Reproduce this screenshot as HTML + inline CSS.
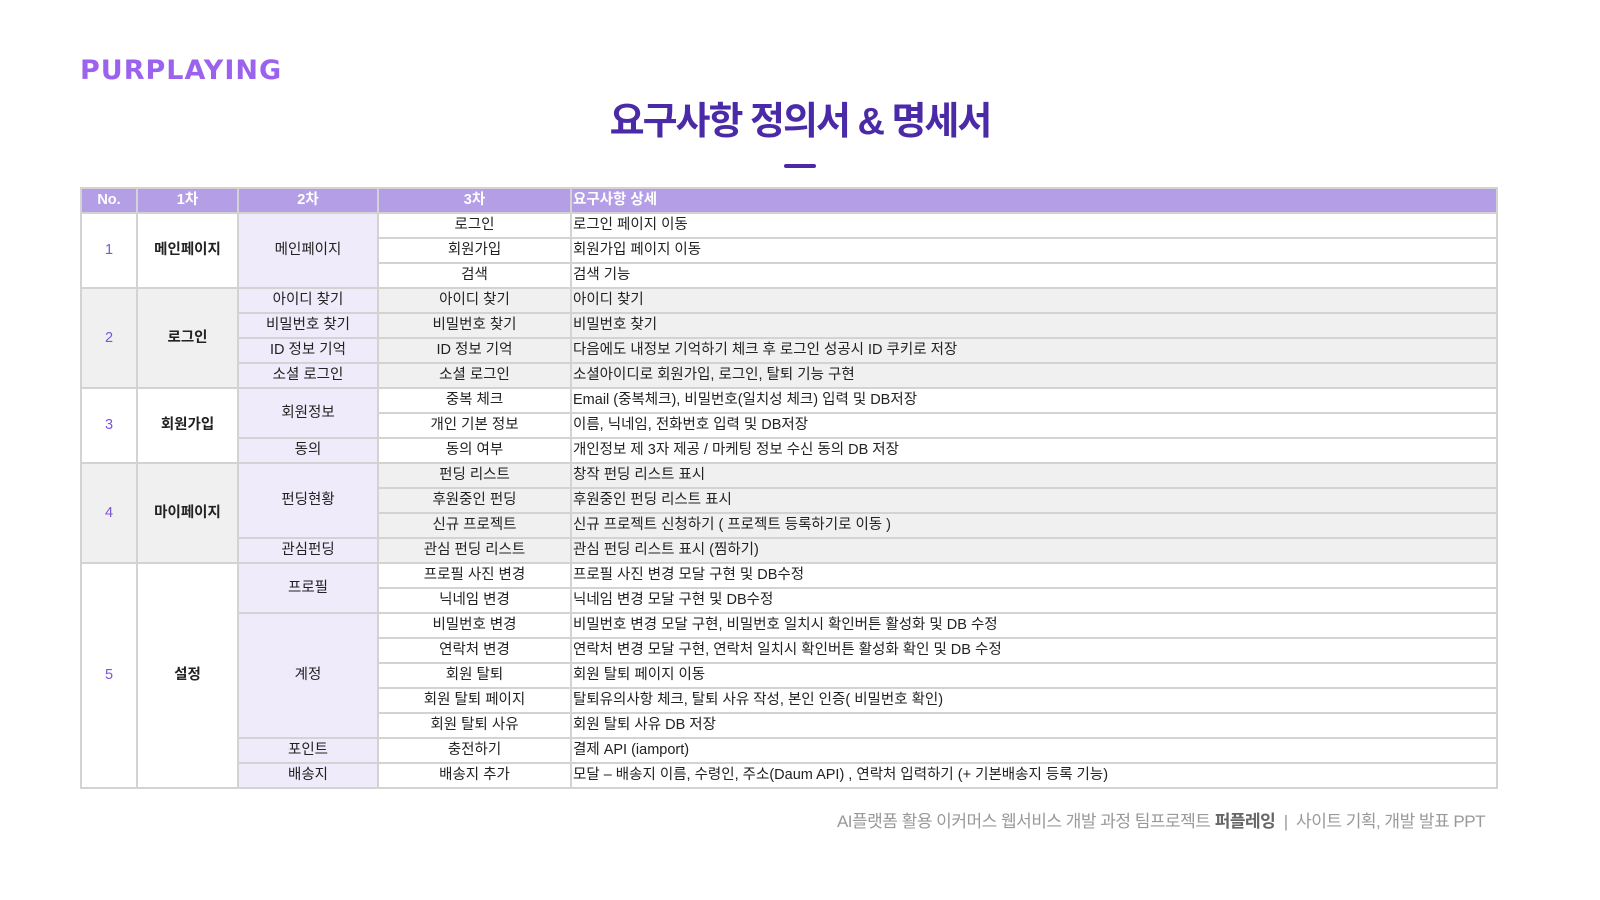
<!DOCTYPE html>
<html><head><meta charset="utf-8">
<style>
html,body{margin:0;padding:0;background:#fff;}
body{width:1600px;height:900px;position:relative;overflow:hidden;font-family:"Liberation Sans","Noto Sans CJK KR",sans-serif;}
#logo{position:absolute;left:80px;top:55px;font-size:27px;font-weight:900;color:#9b62f0;letter-spacing:1px;font-family:"DejaVu Sans","Liberation Sans",sans-serif;}
#title{position:absolute;left:0;width:1600px;top:90px;text-align:center;font-size:38px;font-weight:bold;color:#4b2aa8;letter-spacing:-2px;}
#bar{position:absolute;left:784px;top:164px;width:32px;height:4px;background:#4b2aa8;border-radius:2px;}
table{position:absolute;left:80px;top:187px;border-collapse:collapse;table-layout:fixed;width:1418px;font-size:14.5px;color:#222;}
tr{height:25px;}
td,th{border:2px solid #d3d3d3;height:23px;padding:0;text-align:center;white-space:nowrap;overflow:hidden;line-height:23px;}
th{background:#b49ee6;color:#fff;font-weight:bold;}
th.l,td.l{text-align:left;padding-left:1px;}
td.no{color:#7b55d8;}
td.b{font-weight:bold;}
td.c2{background:#efebfa;}
tr.g td{background:#f0f0f0;}
tr.g td.c2{background:#efebfa;}
td.g{background:#f0f0f0;}
#footer{position:absolute;right:115px;top:807px;font-size:17px;color:#999;letter-spacing:-0.5px;}
#footer b{color:#666;font-weight:bold;}
</style></head><body>
<div id="logo">PURPLAYING</div>
<div id="title">요구사항 정의서 &amp; 명세서</div>
<div id="bar"></div>
<table>
<colgroup><col style="width:56px"><col style="width:101px"><col style="width:140px"><col style="width:193px"><col></colgroup>
<tr><th>No.</th><th>1차</th><th>2차</th><th>3차</th><th class="l">요구사항 상세</th></tr>
<tr><td rowspan="3" class="no">1</td><td rowspan="3" class="b">메인페이지</td><td rowspan="3" class="c2">메인페이지</td><td>로그인</td><td class="l">로그인 페이지 이동</td></tr>
<tr><td>회원가입</td><td class="l">회원가입 페이지 이동</td></tr>
<tr><td>검색</td><td class="l">검색 기능</td></tr>
<tr class="g"><td rowspan="4" class="no g">2</td><td rowspan="4" class="b g">로그인</td><td class="c2">아이디 찾기</td><td>아이디 찾기</td><td class="l">아이디 찾기</td></tr>
<tr class="g"><td class="c2">비밀번호 찾기</td><td>비밀번호 찾기</td><td class="l">비밀번호 찾기</td></tr>
<tr class="g"><td class="c2">ID 정보 기억</td><td>ID 정보 기억</td><td class="l">다음에도 내정보 기억하기 체크 후 로그인 성공시 ID 쿠키로 저장</td></tr>
<tr class="g"><td class="c2">소셜 로그인</td><td>소셜 로그인</td><td class="l">소셜아이디로 회원가입, 로그인, 탈퇴 기능 구현</td></tr>
<tr><td rowspan="3" class="no">3</td><td rowspan="3" class="b">회원가입</td><td rowspan="2" class="c2">회원정보</td><td>중복 체크</td><td class="l">Email (중복체크), 비밀번호(일치성 체크) 입력 및 DB저장</td></tr>
<tr><td>개인 기본 정보</td><td class="l">이름, 닉네임, 전화번호 입력 및 DB저장</td></tr>
<tr><td class="c2">동의</td><td>동의 여부</td><td class="l">개인정보 제 3자 제공 / 마케팅 정보 수신 동의 DB 저장</td></tr>
<tr class="g"><td rowspan="4" class="no g">4</td><td rowspan="4" class="b g">마이페이지</td><td rowspan="3" class="c2">펀딩현황</td><td>펀딩 리스트</td><td class="l">창작 펀딩 리스트 표시</td></tr>
<tr class="g"><td>후원중인 펀딩</td><td class="l">후원중인 펀딩 리스트 표시</td></tr>
<tr class="g"><td>신규 프로젝트</td><td class="l">신규 프로젝트 신청하기 ( 프로젝트 등록하기로 이동 )</td></tr>
<tr class="g"><td class="c2">관심펀딩</td><td>관심 펀딩 리스트</td><td class="l">관심 펀딩 리스트 표시 (찜하기)</td></tr>
<tr><td rowspan="9" class="no">5</td><td rowspan="9" class="b">설정</td><td rowspan="2" class="c2">프로필</td><td>프로필 사진 변경</td><td class="l">프로필 사진 변경 모달 구현 및 DB수정</td></tr>
<tr><td>닉네임 변경</td><td class="l">닉네임 변경 모달 구현 및 DB수정</td></tr>
<tr><td rowspan="5" class="c2">계정</td><td>비밀번호 변경</td><td class="l">비밀번호 변경 모달 구현, 비밀번호 일치시 확인버튼 활성화 및 DB 수정</td></tr>
<tr><td>연락처 변경</td><td class="l">연락처 변경 모달 구현, 연락처 일치시 확인버튼 활성화 확인 및 DB 수정</td></tr>
<tr><td>회원 탈퇴</td><td class="l">회원 탈퇴 페이지 이동</td></tr>
<tr><td>회원 탈퇴 페이지</td><td class="l">탈퇴유의사항 체크, 탈퇴 사유 작성, 본인 인증( 비밀번호 확인)</td></tr>
<tr><td>회원 탈퇴 사유</td><td class="l">회원 탈퇴 사유 DB 저장</td></tr>
<tr><td class="c2">포인트</td><td>충전하기</td><td class="l">결제 API (iamport)</td></tr>
<tr><td class="c2">배송지</td><td>배송지 추가</td><td class="l">모달 – 배송지 이름, 수령인, 주소(Daum API) , 연락처 입력하기 (+ 기본배송지 등록 기능)</td></tr>
</table>
<div id="footer">AI플랫폼 활용 이커머스 웹서비스 개발 과정 팀프로젝트 <b>퍼플레잉</b> &nbsp;|&nbsp; 사이트 기획, 개발 발표 PPT</div>
</body></html>
